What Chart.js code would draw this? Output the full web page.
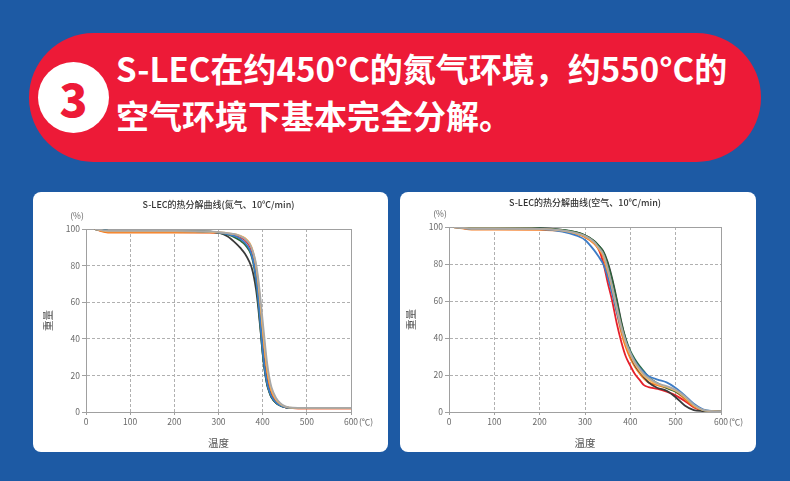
<!DOCTYPE html>
<html>
<head>
<meta charset="utf-8">
<script src="https://cdn.jsdelivr.net/npm/chart.js@4/dist/chart.umd.min.js"></script>
<style>
  html, body { margin:0; padding:0; }
  body { width:790px; height:481px; background:#1d5aa4; position:relative; overflow:hidden;
         font-family:"Noto Sans CJK SC","Noto Sans",sans-serif; }
  .banner { position:absolute; left:29px; top:33px; width:732px; height:129px; background:#ed1a37; border-radius:65px; }
  .circle { position:absolute; left:38px; top:62px; width:71px; height:71px; border-radius:50%; background:#fff;
            color:#ed1a37; font-weight:900; font-size:46px; line-height:71px; text-align:center; }
  .line { position:absolute; left:116px; color:#fff; font-weight:700; font-size:33px; white-space:nowrap; line-height:1; }
  .panel { position:absolute; top:192px; height:260px; background:#fff; border-radius:8px; overflow:hidden; }
  canvas { display:block; }
</style>
</head>
<body>
<div class="banner"></div>
<div class="circle">3</div>
<div class="line" style="top:52px;">S-LEC在约450°C的氮气环境，约550°C的</div>
<div class="line" style="top:99px;">空气环境下基本完全分解。</div>
<div class="panel" style="left:33px;width:355px;"><canvas id="c1" width="355" height="260"></canvas></div>
<div class="panel" style="left:400px;width:356px;"><canvas id="c2" width="356" height="260"></canvas></div>
<script>
// ---- shared tick labels ----
const xTicks = [0, 100, 200, 300, 400, 500, 600];
const yTicks = [0, 20, 40, 60, 80, 100];
const seriesColors = ['#3a3a3a', '#2b6a3c', '#3d7cc6', '#e5202b', '#f47a22', '#f7b761', '#a8a8a8'];

// ---- Nitrogen chart (temperature °C -> weight %) ----
const n2Temps = [20, 40, 60, 100, 200, 280, 300, 320, 340, 350, 360, 370, 375, 380, 385, 390, 395, 400, 405, 410, 415, 420, 430, 440, 450, 460, 480, 600];
const n2Black  = [100, 99.3, 99, 99, 99, 98.6, 98, 96, 92, 89.5, 86.5, 82, 79, 74, 67, 57, 45, 32, 22, 15, 11, 8, 5, 3.5, 2.7, 2.3, 2.2, 2.2];
const n2Green  = [100, 99.3, 99, 99, 99, 98.6, 98, 97, 95, 93.5, 91.5, 88, 85, 80, 72, 60, 46, 32, 22, 15, 11, 8, 5, 3.5, 2.7, 2.3, 2.2, 2.2];
const n2Blue   = [100, 99.2, 98.8, 98.8, 98.8, 98.5, 98, 97.2, 95.8, 94.5, 92.5, 89, 86, 81, 73, 62, 48, 34, 23, 16, 11.5, 8.5, 5.2, 3.6, 2.7, 2.3, 2.2, 2.2];
const n2Red    = [100, 98.8, 98.3, 98.3, 98.3, 98.2, 98, 97.5, 96.5, 95.5, 94, 91, 88, 83, 75, 64, 51, 37, 26, 18, 13, 9.5, 5.8, 3.8, 2.7, 2.2, 2, 2];
const n2Orange = [100, 98.5, 98, 98, 98, 98, 97.8, 97.5, 96.8, 96, 94.8, 92, 89.5, 85, 78, 68, 55, 42, 30, 21, 15, 11, 6.5, 4, 2.8, 2.2, 2, 2];
const n2Yellow = [100, 99, 98.7, 98.7, 98.7, 98.5, 98.2, 97.8, 97, 96.2, 95, 92.5, 90, 86, 80, 71, 59, 46, 34, 24, 17, 12, 7, 4.3, 3, 2.4, 2.2, 2.2];
const n2Gray   = [100, 99.3, 99, 99, 99, 98.7, 98.3, 97.8, 97, 96, 94.5, 92, 89.5, 86, 81, 73, 62, 50, 38, 27, 19, 13.5, 7.8, 4.8, 3.2, 2.5, 2.3, 2.3];

// ---- Air chart (temperature °C -> weight %) ----
const airTemps = [10, 30, 50, 100, 200, 250, 280, 300, 320, 330, 340, 350, 360, 370, 380, 390, 400, 410, 420, 430, 440, 460, 480, 500, 520, 540, 560, 580, 600];
const airBlack  = [100, 99.7, 99.5, 99.5, 99.4, 98.5, 97.2, 95.5, 92.5, 90, 87, 81, 72, 61, 49, 39, 31, 25.5, 22, 19, 16, 13, 11.5, 8, 3.5, 1, 0.5, 0.3, 0.3];
const airGreen  = [100, 99.7, 99.4, 99.4, 99.3, 98.4, 97.2, 95.5, 92.5, 90, 86.5, 80, 71, 60, 48, 39.5, 33, 28.5, 25, 22, 19, 15.5, 13, 11, 8, 3.6, 1, 0.5, 0.3];
const airBlue   = [100, 99.5, 99, 99, 98.8, 97.5, 95.5, 93, 87.5, 84, 80, 73, 64, 54, 45, 38, 32, 27.5, 24, 21.5, 19.5, 17.5, 16, 13, 9, 4.5, 1.5, 0.5, 0.3];
const airRed    = [100, 99.5, 99, 99, 98.8, 98, 96.5, 95, 91.5, 88, 81, 70, 60, 48, 38, 30, 25, 20.5, 17.5, 14.5, 13.5, 12.5, 11, 9, 6, 2.5, 0.8, 0.4, 0.3];
const airOrange = [100, 99.2, 98.6, 98.6, 98.5, 97.8, 96.3, 94.5, 91, 88, 84, 75, 65, 54, 43, 35, 29, 24.5, 21, 18, 16, 14.5, 13, 11, 7, 3, 1, 0.4, 0.3];
const airYellow = [100, 99.5, 99.2, 99.2, 99, 98, 96.6, 95, 91.5, 88.5, 85, 77, 67, 56, 45.5, 37, 31, 26, 22.5, 19.5, 17.5, 15, 13.5, 11.5, 8, 3.5, 1, 0.4, 0.3];
const airGray   = [100, 99.5, 99.2, 99.2, 99, 98.2, 96.8, 95.2, 92, 89, 85.5, 78, 68, 57, 46.5, 38, 32, 27, 23.5, 20.5, 18.5, 15.5, 14, 12, 8.5, 4, 1.2, 0.5, 0.3];

const FONT = '"Noto Sans CJK SC","Noto Sans",sans-serif';

function pts(xs, ys) { return xs.map((x, i) => ({ x: x, y: ys[i] })); }

function makeSets(xs, list) {
  // draw order: gray, yellow, blue, green, black, orange, red (last on top)
  const order = [6, 5, 2, 1, 0, 4, 3];
  return order.map(k => ({
    data: pts(xs, list[k]),
    borderColor: seriesColors[k],
    borderWidth: 1.8,
    pointRadius: 0,
    fill: false,
    cubicInterpolationMode: 'monotone'
  }));
}

const extraText = {
  id: 'extraText',
  beforeDatasetsDraw(chart) {
    const ctx = chart.ctx, a = chart.chartArea;
    ctx.save();
    ctx.strokeStyle = '#a0a0a0';
    ctx.lineWidth = 1;
    ctx.setLineDash([]);
    ctx.strokeRect(Math.round(a.left) + 0.5, Math.round(a.top) + 0.5, Math.round(a.right - a.left), Math.round(a.bottom - a.top));
    ctx.restore();
  },
  afterDraw(chart, args, opts) {
    const ctx = chart.ctx, a = chart.chartArea;
    ctx.save();
    // title
    ctx.fillStyle = '#333';
    ctx.font = '500 9px ' + FONT;
    ctx.textAlign = 'center';
    ctx.textBaseline = 'middle';
    ctx.fillText(opts.title, (a.left + a.right) / 2, a.top - 24);
    // units
    ctx.fillStyle = '#666';
    ctx.font = '8.5px ' + FONT;
    ctx.fillText('(%)', a.left - 9, a.top - 13);
    ctx.textAlign = 'left';
    ctx.fillText('(℃)', a.right + 8, a.bottom + 9.5);
    // axis titles
    ctx.fillStyle = '#555';
    ctx.font = '10.5px ' + FONT;
    ctx.textAlign = 'center';
    ctx.fillText('温度', (a.left + a.right) / 2, a.bottom + 31);
    ctx.translate(a.left - 38, (a.top + a.bottom) / 2);
    ctx.rotate(-Math.PI / 2);
    ctx.fillText('重量', 0, 0);
    ctx.restore();
  }
};

function makeChart(id, xs, list, title, pad, yW) {
  return new Chart(document.getElementById(id), {
    type: 'line',
    data: { datasets: makeSets(xs, list) },
    options: {
      responsive: false,
      animation: false,
      devicePixelRatio: 1,
      layout: { padding: pad },
      plugins: { legend: { display: false }, tooltip: { enabled: false }, title: { display: false },
                 extraText: { title: title } },
      scales: {
        x: {
          type: 'linear', min: 0, max: 600,
          afterBuildTicks: s => { s.ticks = xTicks.map(v => ({ value: v })); },
          afterFit: s => { s.height = 40; },
          ticks: { color: '#6a6a6a', font: { family: FONT, size: 8.5 }, padding: 2, maxRotation: 0, autoSkip: false },
          grid: { color: '#b0b0b0', tickLength: 3, tickColor: '#a0a0a0', tickBorderDash: [] },
          border: { display: true, color: '#a0a0a0', dash: [3, 2] }
        },
        y: {
          min: 0, max: 100,
          afterBuildTicks: s => { s.ticks = yTicks.map(v => ({ value: v })); },
          afterFit: s => { s.width = yW; },
          ticks: { color: '#6a6a6a', font: { family: FONT, size: 8.5 }, padding: 2, autoSkip: false },
          grid: { color: '#b0b0b0', tickLength: 4, tickColor: '#a0a0a0', tickBorderDash: [] },
          border: { display: true, color: '#a0a0a0', dash: [3, 2] }
        }
      }
    },
    plugins: [extraText]
  });
}

makeChart('c1', n2Temps, [n2Black, n2Green, n2Blue, n2Red, n2Orange, n2Yellow, n2Gray],
  'S-LEC的热分解曲线(氮气、10℃/min)', { left: 0, top: 37, right: 37, bottom: 0 }, 53);
makeChart('c2', airTemps, [airBlack, airGreen, airBlue, airRed, airOrange, airYellow, airGray],
  'S-LEC的热分解曲线(空气、10℃/min)', { left: 0, top: 35, right: 35, bottom: 0 }, 49);
</script>
</body>
</html>
